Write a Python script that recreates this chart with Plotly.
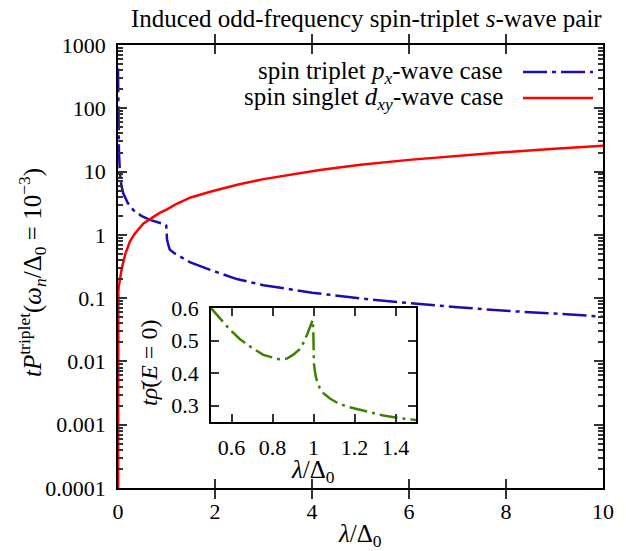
import plotly.graph_objects as go

# ---------------- data ----------------
lam_px = [0.0, 0.003, 0.01, 0.02, 0.04, 0.07, 0.11, 0.2, 0.32, 0.48, 0.66, 0.8, 0.9, 0.97, 0.995,
          1.0, 1.01, 1.04, 1.07, 1.15, 1.28, 1.48, 1.9, 2.45, 3.0, 4.0, 5.0, 5.81, 7.0, 8.0, 9.0, 10.0]
P_px = [430, 100, 40, 20, 9.4, 6.0, 4.5, 3.2, 2.45, 2.0, 1.72, 1.6, 1.52, 1.46, 1.4,
        1.1, 0.85, 0.68, 0.58, 0.52, 0.45, 0.37, 0.28, 0.2, 0.16, 0.122, 0.099, 0.086, 0.072, 0.063, 0.057, 0.051]

lam_dxy = [0.0, 0.002, 0.007, 0.02, 0.04, 0.08, 0.15, 0.25, 0.35, 0.52, 0.66, 0.85, 1.0, 1.21, 1.5,
           1.9, 2.5, 3.0, 4.16, 5.0, 6.0, 7.0, 7.87, 9.0, 10.0]
P_dxy = [1e-6, 0.06, 0.13, 0.16, 0.2, 0.3, 0.5, 0.8, 1.05, 1.5, 1.77, 2.2, 2.5, 3.1, 3.9,
         4.8, 6.3, 7.6, 10.6, 12.8, 15.3, 17.8, 20.0, 23.0, 25.7]

lam_in = [0.5, 0.55, 0.593, 0.64, 0.69, 0.755, 0.83, 0.87, 0.90, 0.93, 0.95, 0.97, 0.983, 0.996,
          0.999, 1.002, 1.008, 1.015, 1.03, 1.047, 1.08, 1.113, 1.16, 1.21, 1.27, 1.34, 1.42, 1.49, 1.5]
rho_in = [0.6, 0.565, 0.533, 0.505, 0.482, 0.456, 0.443, 0.445, 0.456, 0.472, 0.492, 0.52, 0.545, 0.563,
          0.533, 0.43, 0.40, 0.38, 0.355, 0.339, 0.322, 0.31, 0.298, 0.29, 0.28, 0.27, 0.262, 0.257, 0.256]

y_tickvals = [1e-4, 1e-3, 1e-2, 0.1, 1, 10, 100, 1000]
y_ticktext = ["0.0001", "0.001", "0.01", "0.1", "1", "10", "100", "1000"]
y_minor = [m * d for d in [1e-4, 1e-3, 1e-2, 0.1, 1, 10, 100] for m in range(2, 10)]
x_tickvals = [0, 2, 4, 6, 8, 10]
in_xticks = [0.6, 0.8, 1.0, 1.2, 1.4]
in_xtext = ["0.6", "0.8", "1", "1.2", "1.4"]
in_yticks = [0.3, 0.4, 0.5, 0.6]

title_text = "Induced odd-frequency spin-triplet <i>s</i>-wave pair"
leg_px = "spin triplet <i>p<sub>x</sub></i>-wave case"
leg_dxy = "spin singlet <i>d<sub>xy</sub></i>-wave case"
ytitle = "<i>tP</i><sup>triplet</sup>(<i>ω<sub>n</sub></i>/Δ<sub>0</sub> = 10<sup>−3</sup>)"
xtitle = "<i>λ</i>/Δ<sub>0</sub>"
in_ytitle = "<i>t</i><i>ρ̄</i>(<i>E</i> = 0)"

BLUE = "#1a0db3"
RED = "#ff0000"
GREEN = "#3c8200"
FONT = "Liberation Serif"
FS = 22
FS_TXT = 25

fig = go.Figure()
fig.add_trace(go.Scatter(x=lam_px, y=P_px, mode="lines", xaxis="x", yaxis="y",
                         line=dict(color=BLUE, width=2.5, dash="24px,5px,4px,5px"), showlegend=False))
fig.add_trace(go.Scatter(x=lam_dxy, y=P_dxy, mode="lines", xaxis="x", yaxis="y",
                         line=dict(color=RED, width=2.5), showlegend=False))
fig.add_trace(go.Scatter(x=lam_in, y=rho_in, mode="lines", xaxis="x2", yaxis="y2",
                         line=dict(color=GREEN, width=2.5, dash="18px,5px,3px,5px"), showlegend=False))
# empty trace so that the minor-tick overlay axis gets drawn
fig.add_trace(go.Scatter(x=[], y=[], mode="lines", xaxis="x", yaxis="y3", showlegend=False,
                         hoverinfo="skip"))

axis_common = dict(showline=True, linecolor="black", linewidth=1.5, mirror="allticks",
                   ticks="inside", tickcolor="#333333", tickwidth=2, showgrid=False, zeroline=False,
                   tickfont=dict(family=FONT, size=FS, color="black"))

L, R, T, B = 118, 23, 45, 63
W, H = 626, 551
pw, ph = W - L - R, H - T - B

def px2x(p):
    return (p - L) / pw

def py2y(p):
    return (H - B - p) / ph

fig.update_layout(
    width=W, height=H,
    margin=dict(l=L, r=R, t=T, b=B),
    paper_bgcolor="white", plot_bgcolor="white",
    font=dict(family=FONT, size=FS, color="black"),
    xaxis=dict(domain=[0, 1], range=[0, 10], tickvals=x_tickvals, ticklen=9,
               ticklabelstandoff=3, anchor="y", **axis_common),
    yaxis=dict(domain=[0, 1], type="log", range=[-4, 3], tickvals=y_tickvals, ticktext=y_ticktext,
               ticklen=9, ticklabelstandoff=6, anchor="x", **axis_common),
    yaxis3=dict(type="log", range=[-4, 3], overlaying="y", anchor="x", side="left",
                tickvals=y_minor, ticks="inside", ticklen=5, tickwidth=1.5, tickcolor="#333333",
                showticklabels=False, showline=False, mirror="ticks", showgrid=False, zeroline=False),
    xaxis2=dict(domain=[px2x(211), px2x(416)], range=[0.5, 1.5], tickvals=in_xticks, ticktext=in_xtext,
                ticklen=8, ticklabelstandoff=5, anchor="y2", **axis_common),
    yaxis2=dict(domain=[py2y(422), py2y(308)], range=[0.25, 0.6], tickvals=in_yticks,
                ticklen=8, ticklabelstandoff=6, anchor="x2", **axis_common),
)

annotations = [
    dict(text=title_text, x=366, y=18, size=FS_TXT),
    dict(text=xtitle, x=360, y=535, size=FS_TXT),
    dict(text=xtitle, x=313, y=471, size=FS_TXT),
    dict(text=ytitle, x=32, y=273, textangle=-90, size=FS_TXT),
    dict(text=in_ytitle, x=149, y=363, textangle=-90, size=FS_TXT - 1),
]
for a in annotations:
    fig.add_annotation(text=a["text"], x=px2x(a["x"]), y=py2y(a["y"]), xref="paper", yref="paper",
                       showarrow=False, xanchor="center", yanchor="middle",
                       textangle=a.get("textangle", 0), font=dict(family=FONT, size=a["size"], color="black"))

# legend (text right-aligned, sample on the right)
for txt, yy, col, dash in [(leg_px, 72, BLUE, "24px,5px,4px,5px"), (leg_dxy, 98, RED, "solid")]:
    fig.add_annotation(text=txt, x=px2x(505), y=py2y(yy), xref="paper", yref="paper",
                       showarrow=False, xanchor="right", yanchor="middle",
                       font=dict(family=FONT, size=FS_TXT, color="black"))
    fig.add_shape(type="line", xref="paper", yref="paper", x0=px2x(523), x1=px2x(593),
                  y0=py2y(yy), y1=py2y(yy), line=dict(color=col, width=2.5, dash=dash))

fig.write_html("out.html")
